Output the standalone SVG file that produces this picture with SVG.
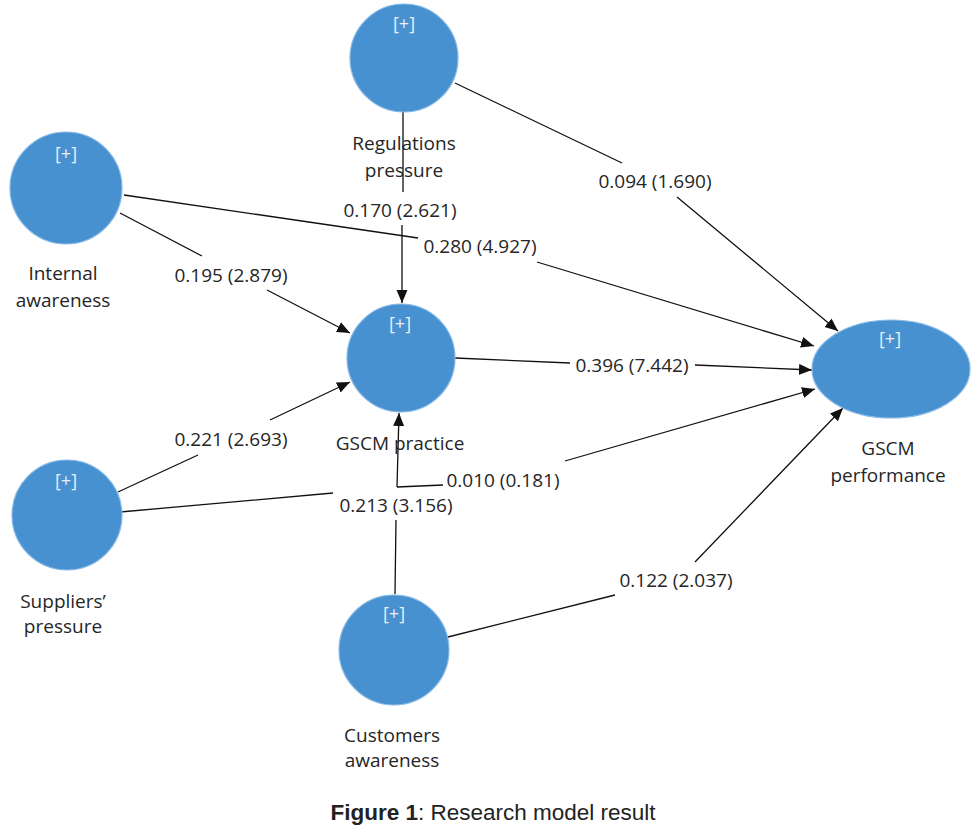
<svg xmlns="http://www.w3.org/2000/svg" width="980" height="831" viewBox="0 0 980 831">
<style>
.node{fill:#4891d0;stroke:#86b9e6;stroke-width:1.2}
.plus{font-family:"Open Sans","DejaVu Sans",sans-serif;font-size:18px;fill:#e6eef8;text-anchor:middle}
.lbl{font-family:"Open Sans","DejaVu Sans",sans-serif;font-size:19px;fill:#262626;text-anchor:middle}
.w{font-family:"Open Sans","DejaVu Sans",sans-serif;font-size:19px;fill:#262626;text-anchor:middle}
.edge{fill:none;stroke:#111;stroke-width:1.3}
.cap{font-family:"Liberation Sans",Arial,sans-serif;font-size:22.5px;fill:#222;text-anchor:middle}
</style>
<defs>
<marker id="arr" markerUnits="userSpaceOnUse" markerWidth="14" markerHeight="12" refX="13" refY="5.5" orient="auto">
<path d="M0,0 L13,5.5 L0,11 z" fill="#111"/>
</marker>
</defs>
<rect width="980" height="831" fill="#fff"/>
<g id="connectors">
<path class="edge" marker-end="url(#arr)" d="M403,112 L403,192 M402,225 L402,303"/>
<path class="edge" marker-end="url(#arr)" d="M455,83 L622,163 M677,197 L838,331"/>
<path class="edge" marker-end="url(#arr)" d="M124,195 L418,238 M537,262 L814,346"/>
<path class="edge" marker-end="url(#arr)" d="M120,213 L202,256 M267,290 L350,333"/>
<path class="edge" marker-end="url(#arr)" d="M455,358 L570,363 M695,365 L812,370"/>
<path class="edge" marker-end="url(#arr)" d="M118,492 L198,455 M270,420 L350,382"/>
<path class="edge" marker-end="url(#arr)" d="M120,512 L333,493 M397,487 L443,485 M565,461 L815,389"/>
<path class="edge" marker-end="url(#arr)" d="M395,594 L396,520 M397,487 L399,413"/>
<path class="edge" marker-end="url(#arr)" d="M448,637 L615,595 M695,562 L843,408"/>
<text class="w" x="400" y="217">0.170 (2.621)</text>
<text class="w" x="655" y="188">0.094 (1.690)</text>
<text class="w" x="480" y="253">0.280 (4.927)</text>
<text class="w" x="231" y="282">0.195 (2.879)</text>
<text class="w" x="632" y="372">0.396 (7.442)</text>
<text class="w" x="231" y="446">0.221 (2.693)</text>
<text class="w" x="503" y="487">0.010 (0.181)</text>
<text class="w" x="396" y="512">0.213 (3.156)</text>
<text class="w" x="676" y="587">0.122 (2.037)</text>
</g>
<g id="regulations-pressure">
<circle class="node" cx="404" cy="58" r="54"/>
<text class="plus" x="404" y="30">[+]</text>
<text class="lbl" x="404" y="150">Regulations</text>
<text class="lbl" x="404" y="177">pressure</text>
</g>
<g id="internal-awareness">
<circle class="node" cx="66" cy="188" r="56"/>
<text class="plus" x="66" y="160">[+]</text>
<text class="lbl" x="63" y="280">Internal</text>
<text class="lbl" x="63" y="307">awareness</text>
</g>
<g id="gscm-practice">
<circle class="node" cx="401" cy="358" r="54"/>
<text class="plus" x="400" y="330">[+]</text>
<text class="lbl" x="400" y="450">GSCM practice</text>
</g>
<g id="gscm-performance">
<ellipse class="node" cx="891" cy="369" rx="79" ry="49"/>
<text class="plus" x="890" y="345">[+]</text>
<text class="lbl" x="888" y="455">GSCM</text>
<text class="lbl" x="888" y="482">performance</text>
</g>
<g id="suppliers-pressure">
<circle class="node" cx="67" cy="515" r="55"/>
<text class="plus" x="66" y="487">[+]</text>
<text class="lbl" x="63" y="608">Suppliers’</text>
<text class="lbl" x="63" y="633">pressure</text>
</g>
<g id="customers-awareness">
<circle class="node" cx="394" cy="650" r="55"/>
<text class="plus" x="394" y="620">[+]</text>
<text class="lbl" x="392" y="742">Customers</text>
<text class="lbl" x="392" y="767">awareness</text>
</g>
<text class="cap" x="493" y="820"><tspan font-weight="bold">Figure 1</tspan>: Research model result</text>
</svg>
